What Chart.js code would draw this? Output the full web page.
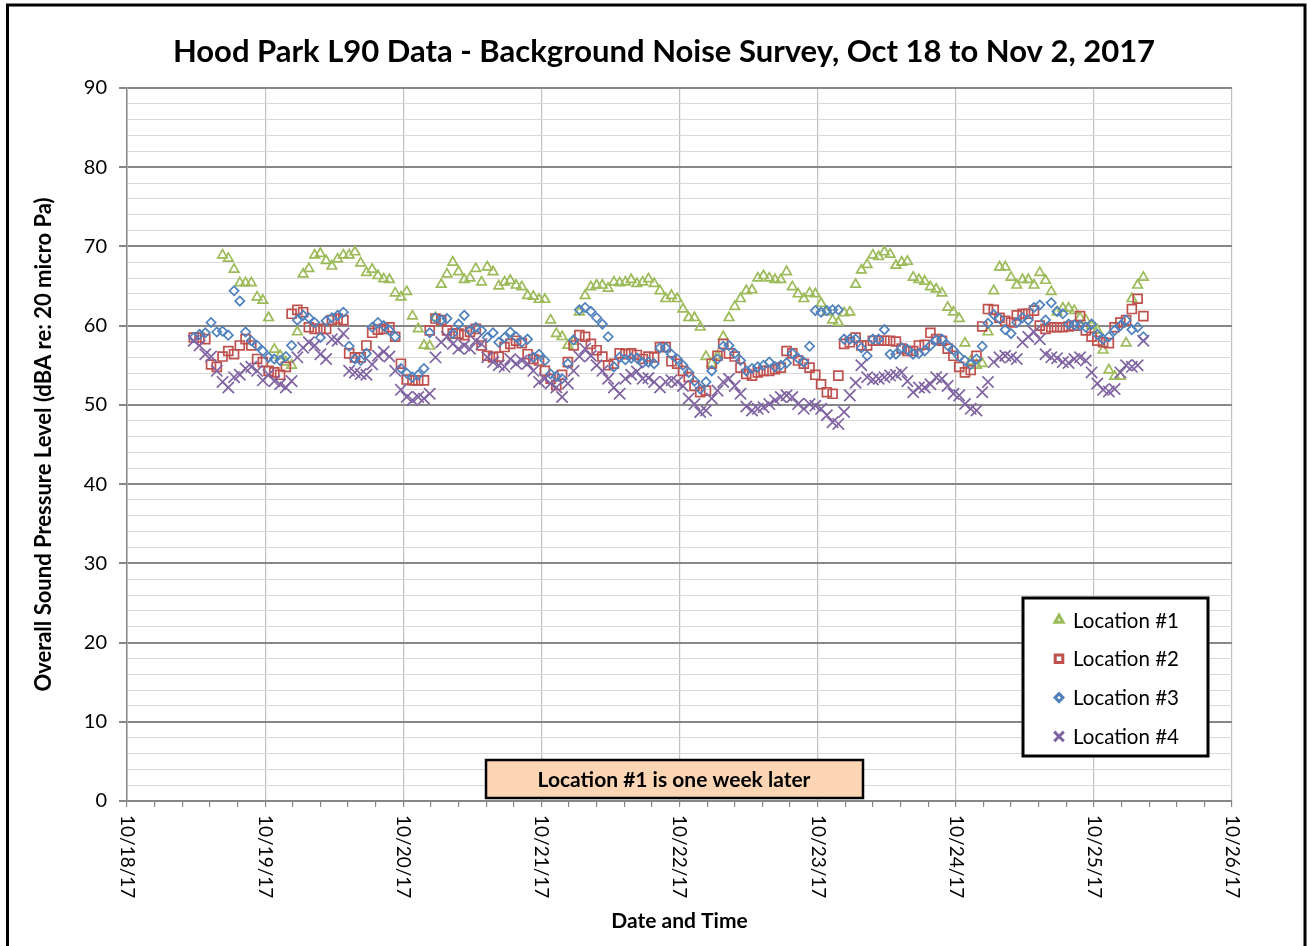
<!DOCTYPE html>
<html>
<head>
<meta charset="utf-8">
<title>Hood Park L90 Data</title>
<script src="https://cdn.jsdelivr.net/npm/chart.js@4.4.0/dist/chart.umd.min.js"></script>
<style>
  html, body { margin: 0; padding: 0; background: #fff; }
  canvas { display: block; }
</style>
</head>
<body>
<canvas id="noiseChart" width="1307" height="946"></canvas>
<script>
// Hourly L90 levels (dBA). Times are hours after 10/18/17 00:00.
const xTickLabels = ['10/18/17', '10/19/17', '10/20/17', '10/21/17', '10/22/17',
  '10/23/17', '10/24/17', '10/25/17', '10/26/17'];
const seriesNames = ['Location #1', 'Location #2', 'Location #3', 'Location #4'];
const loc1StartHour = 16.6;
const loc234StartHour = 11.6;

const loc1 = [
  68.9, 68.5, 67.1, 65.4, 65.4, 65.4, 63.6, 63.2, 61.0, 57.0,
  56.2, 55.4, 55.0, 59.2, 66.5, 67.2, 68.9, 69.1, 68.2, 67.5,
  68.4, 68.9, 68.9, 69.3, 67.9, 66.7, 67.1, 66.3, 65.9, 65.8,
  64.1, 63.6, 64.3, 61.2, 59.6, 57.5, 57.4, 61.0, 65.2, 66.5,
  68.0, 66.8, 65.8, 66.0, 67.2, 65.5, 67.4, 66.8, 65.0, 65.5,
  65.7, 65.1, 64.9, 63.8, 63.7, 63.3, 63.3, 60.7, 59.0, 58.6,
  57.5, 58.0, 61.7, 63.8, 64.9, 65.1, 65.1, 64.7, 65.5, 65.4,
  65.5, 65.8, 65.3, 65.5, 65.9, 65.3, 64.4, 63.4, 63.8, 63.4,
  62.1, 61.0, 61.0, 59.8, 56.1, 55.2, 56.2, 58.6, 61.0, 62.4,
  63.4, 64.4, 64.5, 66.0, 66.3, 66.0, 65.8, 65.8, 66.8, 64.9,
  64.0, 63.4, 64.1, 64.0, 62.8, 61.7, 60.7, 60.4, 61.6, 61.7,
  65.2, 67.0, 67.7, 68.9, 68.7, 69.3, 69.0, 67.6, 68.0, 68.1,
  66.1, 65.8, 65.6, 64.9, 64.6, 64.1, 62.3, 61.7, 60.9, 57.8,
  55.5, 55.0, 55.2, 59.2, 64.4, 67.4, 67.4, 66.1, 65.1, 65.8,
  65.8, 65.1, 66.7, 65.7, 64.3, 61.7, 62.2, 62.2, 61.9, 61.0,
  60.7, 60.0, 59.4, 56.9, 54.4, 53.6, 53.6, 57.8, 63.4, 65.1,
  66.1
];

const loc2 = [
  58.5, 58.5, 58.3, 55.1, 54.8, 56.1, 56.8, 56.4, 57.5, 58.3,
  57.5, 55.8, 55.4, 54.3, 54.1, 53.8, 54.8, 61.5, 62.0, 61.7,
  59.8, 59.6, 59.6, 59.6, 60.7, 60.9, 60.7, 56.5, 56.0, 56.0,
  57.5, 59.1, 59.5, 59.6, 59.8, 58.6, 55.2, 53.2, 53.1, 53.1,
  53.1, 59.4, 60.9, 60.7, 59.4, 59.0, 59.0, 58.8, 59.2, 59.6,
  57.5, 56.2, 56.0, 56.1, 57.3, 57.7, 58.1, 57.8, 56.4, 55.8,
  55.6, 54.3, 53.3, 52.5, 53.8, 55.4, 57.5, 58.8, 58.6, 57.7,
  56.9, 56.1, 55.0, 55.2, 56.5, 56.4, 56.5, 56.3, 55.8, 56.1,
  56.0, 57.3, 57.3, 55.5, 55.2, 54.3, 53.5, 52.4, 51.6, 51.8,
  55.2, 56.2, 57.7, 56.5, 56.1, 54.7, 53.9, 53.7, 54.1, 54.3,
  54.3, 54.5, 54.7, 56.8, 56.5, 55.6, 55.2, 54.7, 53.8, 52.6,
  51.6, 51.4, 53.7, 57.7, 57.9, 58.5, 57.5, 57.5, 58.1, 58.1,
  58.1, 58.1, 58.0, 57.1, 56.8, 56.8, 57.5, 57.6, 59.1, 58.3,
  58.1, 57.1, 56.2, 54.8, 54.1, 54.4, 56.2, 59.9, 62.1, 62.0,
  61.0, 60.6, 60.4, 61.3, 61.5, 61.5, 61.9, 60.0, 59.6, 59.8,
  59.8, 59.8, 59.9, 60.0, 61.2, 59.4, 58.6, 58.1, 57.9, 57.8,
  59.8, 60.4, 60.7, 62.1, 63.4, 61.2
];

const loc3 = [
  58.5, 58.9, 59.1, 60.4, 59.2, 59.3, 58.8, 64.4, 63.1, 59.2,
  58.1, 57.5, 56.8, 56.0, 55.8, 55.6, 56.1, 57.5, 60.7, 61.3,
  61.0, 60.4, 58.5, 60.6, 61.0, 61.3, 61.7, 57.4, 55.8, 55.6,
  56.5, 59.8, 60.4, 60.0, 59.4, 58.6, 54.6, 54.0, 53.5, 53.8,
  54.6, 59.1, 61.0, 60.7, 60.9, 59.0, 60.2, 61.3, 59.4, 59.8,
  59.4, 58.5, 59.1, 57.9, 58.5, 59.2, 58.6, 57.9, 58.3, 56.0,
  56.4, 55.6, 53.9, 53.6, 53.3, 55.2, 58.2, 62.0, 62.3, 61.8,
  61.0, 60.2, 58.6, 54.8, 56.0, 55.7, 55.9, 55.9, 55.3, 55.4,
  55.2, 57.2, 57.2, 56.4, 55.8, 55.0, 54.1, 53.0, 52.0, 52.9,
  54.3, 55.8, 57.4, 57.5, 56.5, 55.6, 54.3, 54.6, 54.8, 55.0,
  55.4, 54.8, 55.0, 55.3, 56.5, 55.9, 55.4, 57.4, 61.9, 61.7,
  61.9, 62.0, 62.0, 58.3, 58.3, 58.3, 57.2, 56.2, 58.3, 58.3,
  59.5, 56.4, 56.4, 57.2, 57.0, 56.4, 56.5, 56.8, 57.5, 58.2,
  58.3, 57.5, 56.9, 56.1, 55.6, 55.1, 55.8, 57.4, 60.3, 61.4,
  60.9, 59.5, 59.0, 60.4, 61.0, 60.7, 62.3, 62.6, 60.7, 62.9,
  61.8, 61.5, 60.2, 60.1, 60.0, 59.8, 60.2, 58.9, 58.3, 58.6,
  59.4, 60.0, 60.7, 59.5, 59.8, 58.6
];

const loc4 = [
  58.1, 57.5, 56.4, 56.1, 54.3, 52.9, 52.2, 53.5, 53.8, 54.6,
  54.8, 54.3, 53.1, 53.8, 53.0, 52.6, 52.2, 53.0, 56.0, 57.2,
  57.9, 57.5, 56.4, 55.8, 58.3, 58.1, 59.0, 54.3, 54.1, 53.9,
  53.8, 55.1, 56.2, 56.7, 56.1, 54.3, 51.9, 51.0, 50.6, 51.0,
  50.8, 51.4, 56.0, 57.9, 58.6, 57.7, 57.1, 57.5, 57.1, 58.1,
  57.7, 56.0, 55.4, 55.0, 54.8, 55.8, 55.2, 55.6, 55.2, 54.3,
  52.9, 53.3, 52.7, 52.2, 51.0, 52.7, 54.3, 56.1, 57.1, 56.2,
  55.0, 54.3, 53.3, 52.2, 51.4, 53.3, 53.8, 54.2, 53.3, 53.4,
  52.9, 52.2, 52.9, 53.1, 52.9, 52.4, 50.8, 50.1, 49.1, 49.3,
  50.8, 51.8, 52.9, 53.3, 52.4, 51.4, 49.8, 49.3, 49.5, 49.7,
  50.1, 50.6, 51.0, 51.2, 51.0, 50.1, 49.5, 50.1, 49.9, 49.5,
  48.7, 47.8, 47.6, 49.1, 51.2, 52.8, 55.0, 53.5, 53.2, 53.3,
  53.5, 53.7, 53.8, 54.1, 53.0, 51.6, 52.2, 52.2, 52.6, 53.5,
  53.3, 52.4, 51.4, 51.2, 50.1, 49.5, 49.3, 51.6, 52.9, 55.4,
  56.0, 56.2, 56.0, 55.8, 57.9, 58.6, 59.2, 58.3, 56.4, 56.0,
  55.9, 55.4, 55.3, 55.8, 56.0, 55.6, 54.1, 52.7, 51.9, 51.7,
  52.0, 54.1, 55.0, 54.8, 55.0, 58.1
];

const FONT = 'Lato, "Open Sans", sans-serif';
const CANVAS_W = 1307, CANVAS_H = 946;
const PLOT = { left: 127, right: 1232, top: 88, bottom: 801 };

const markers = [
  { color: '#9bbb59', style: 'triangle', radius: 5.5 },
  { color: '#c0504d', style: 'rect', radius: 6.3 },
  { color: '#4f81bd', style: 'rectRot', radius: 4.6 },
  { color: '#8064a2', style: 'crossRot', radius: 8 }
];

function toPoints(values, startHour) {
  return values.map((v, i) => ({ x: (startHour + i) / 24, y: v }));
}

const seriesValues = [loc1, loc2, loc3, loc4];
const seriesStarts = [loc1StartHour, loc234StartHour, loc234StartHour, loc234StartHour];

const datasets = seriesValues.map((values, i) => ({
  label: seriesNames[i],
  data: toPoints(values, seriesStarts[i]),
  showLine: false,
  pointStyle: markers[i].style,
  pointRadius: markers[i].radius,
  pointBorderWidth: 1.7,
  pointBorderColor: markers[i].color,
  pointBackgroundColor: 'transparent',
  order: 4 - i
}));

const isWhole = v => Math.abs(v - Math.round(v)) < 1e-6;
const isMajorY = v => Math.abs(v % 10) < 1e-6;

// white page, outer frame, rotated date labels, legend box and note
const decorations = {
  id: 'decorations',
  beforeDraw(chart) {
    const ctx = chart.ctx;
    ctx.save();
    ctx.fillStyle = '#fff';
    ctx.fillRect(0, 0, CANVAS_W, CANVAS_H);
    ctx.restore();
  },
  afterDraw(chart) {
    const ctx = chart.ctx;
    const xs = chart.scales.x;
    ctx.save();

    // title
    ctx.fillStyle = '#000';
    ctx.font = 'bold 31px ' + FONT;
    ctx.textAlign = 'center';
    ctx.textBaseline = 'alphabetic';
    ctx.fillText('Hood Park L90 Data - Background Noise Survey, Oct 18 to Nov 2, 2017', 664, 62);

    // date labels, turned to read downwards
    ctx.font = '19px ' + FONT;
    ctx.textAlign = 'left';
    ctx.textBaseline = 'middle';
    xTickLabels.forEach((label, i) => {
      ctx.save();
      ctx.translate(xs.getPixelForValue(i), PLOT.bottom + 14);
      ctx.rotate(Math.PI / 2);
      ctx.fillText(label, 0, 0);
      ctx.restore();
    });

    // legend
    const lg = { x: 1023, y: 598, w: 185, h: 158 };
    ctx.fillStyle = '#fff';
    ctx.fillRect(lg.x, lg.y, lg.w, lg.h);
    ctx.lineWidth = 3;
    ctx.strokeStyle = '#000';
    ctx.strokeRect(lg.x, lg.y, lg.w, lg.h);
    ctx.font = '20.5px ' + FONT;
    ctx.textAlign = 'left';
    ctx.textBaseline = 'middle';
    seriesNames.forEach((name, i) => {
      const y = 620 + i * 38.8;
      ctx.strokeStyle = markers[i].color;
      ctx.fillStyle = 'transparent';
      Chart.helpers.drawPoint(ctx, {
        pointStyle: markers[i].style,
        radius: markers[i].radius * 0.85,
        borderWidth: 1.7,
        rotation: 0
      }, 1059, y);
      ctx.fillStyle = '#000';
      ctx.fillText(name, 1073, y + 1);
    });

    // note box
    ctx.fillStyle = '#fcd5b5';
    ctx.fillRect(486, 760, 377, 38);
    ctx.lineWidth = 2.5;
    ctx.strokeStyle = '#000';
    ctx.strokeRect(486, 760, 377, 38);
    ctx.fillStyle = '#000';
    ctx.font = 'bold 21px ' + FONT;
    ctx.textAlign = 'center';
    ctx.fillText('Location #1 is one week later', 674, 780);

    // outer frame
    ctx.lineWidth = 3;
    ctx.strokeStyle = '#000';
    ctx.strokeRect(7.5, 5, 1297.5, 1000);
    ctx.restore();
  }
};

new Chart(document.getElementById('noiseChart'), {
  type: 'scatter',
  data: { datasets },
  options: {
    responsive: false,
    animation: false,
    devicePixelRatio: 1,
    layout: { padding: { top: PLOT.top, right: CANVAS_W - PLOT.right, left: 0, bottom: 0 } },
    plugins: {
      legend: { display: false },
      tooltip: { enabled: false },
      title: { display: false }
    },
    scales: {
      x: {
        type: 'linear',
        min: 0,
        max: 8,
        afterFit: s => { s.height = CANVAS_H - PLOT.bottom; },
        ticks: { stepSize: 0.2, autoSkip: false, maxRotation: 0, callback: () => '' },
        grid: {
          color: c => isWhole(c.tick.value) ? '#bfbfbf' : 'rgba(0,0,0,0)',
          lineWidth: 1.2,
          tickColor: '#868686',
          tickLength: 6
        },
        border: { color: '#868686', width: 1.5 },
        title: {
          display: true,
          text: 'Date and Time',
          color: '#000',
          font: { family: FONT, size: 21, weight: 'bold' },
          padding: { bottom: 12 }
        }
      },
      y: {
        min: 0,
        max: 90,
        afterFit: s => { s.width = PLOT.left; },
        ticks: {
          stepSize: 2,
          autoSkip: false,
          color: '#000',
          padding: 12,
          font: { family: FONT, size: 20 },
          callback: v => isMajorY(v) ? String(v) : ''
        },
        grid: {
          color: c => isMajorY(c.tick.value) ? '#878787' : '#d9d9d9',
          lineWidth: c => isMajorY(c.tick.value) ? 2 : 1,
          tickColor: c => isMajorY(c.tick.value) ? '#878787' : 'rgba(0,0,0,0)',
          tickLength: 8
        },
        border: { color: '#878787', width: 1.5 },
        title: {
          display: true,
          text: 'Overall Sound Pressure Level (dBA re: 20 micro Pa)',
          color: '#000',
          font: { family: FONT, size: 22, weight: 'bold' },
          padding: { top: 31 }
        }
      }
    }
  },
  plugins: [decorations]
});
</script>
</body>
</html>
